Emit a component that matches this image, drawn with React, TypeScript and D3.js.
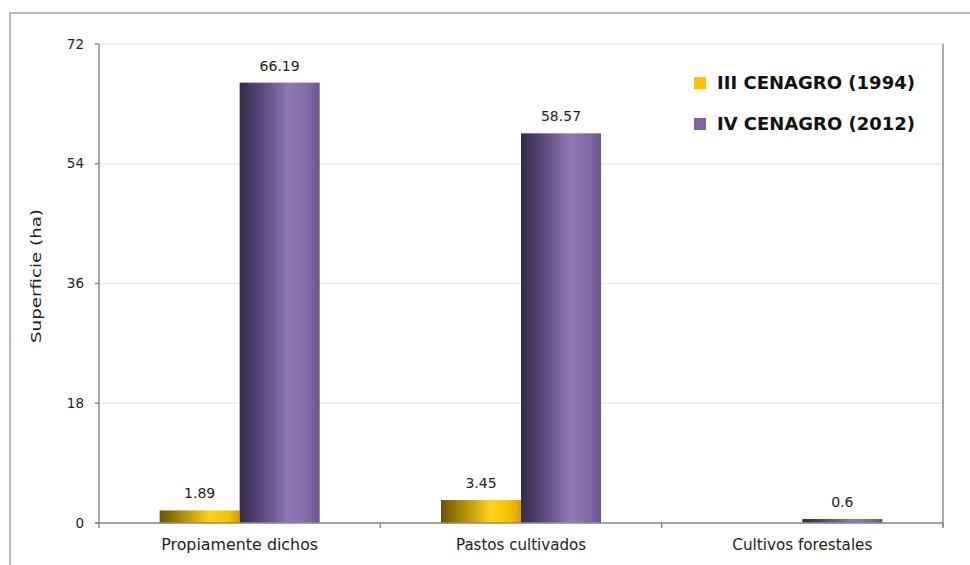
import React from "react";
import * as d3 from "d3";

const categories = ["Propiamente dichos", "Pastos cultivados", "Cultivos forestales"];
const series1994 = [1.89, 3.45, 0];
const series2012 = [66.19, 58.57, 0.6];
const seriesNames = ["III CENAGRO (1994)", "IV CENAGRO (2012)"];
const yTicks = [0, 18, 36, 54, 72];

const W = 970;
const H = 565;
const plot = { left: 99, right: 943, top: 44, bottom: 523 };
const FONT = "'DejaVu Sans', 'Open Sans', sans-serif";
const catLen = [157, 130, 140];

export default function App() {
  const x0 = d3
    .scaleBand<string>()
    .domain(categories)
    .range([plot.left, plot.right])
    .paddingInner(0)
    .paddingOuter(0);
  const groupW = 160;
  const x1 = d3
    .scaleBand<string>()
    .domain(["a", "b"])
    .range([0, groupW])
    .padding(0);
  const y = d3.scaleLinear().domain([0, 72]).range([plot.bottom, plot.top]);

  const fmt = (v: number) => String(v);

  const bars: { key: string; x: number; w: number; v: number; fill: string; show: boolean }[] = [];
  categories.forEach((c, i) => {
    const gx = (x0(c) as number) + x0.bandwidth() / 2 - groupW / 2;
    bars.push({ key: "a" + i, x: gx + (x1("a") as number), w: x1.bandwidth(), v: series1994[i], fill: "url(#gYellow)", show: series1994[i] > 0 });
    bars.push({ key: "b" + i, x: gx + (x1("b") as number), w: x1.bandwidth(), v: series2012[i], fill: "url(#gPurple)", show: series2012[i] > 0 });
  });

  const boundaries = [plot.left, ...categories.map((c) => (x0(c) as number) + x0.bandwidth())];

  return (
    <svg
      width={W}
      height={H}
      style={{ position: "absolute", left: 0, top: 0, background: "#fff" }}
      fontFamily={FONT}
    >
      <defs>
        <linearGradient id="gYellow" x1="0" x2="1" y1="0" y2="0">
          <stop offset="0%" stopColor="#6b5406" />
          <stop offset="30%" stopColor="#b38f07" />
          <stop offset="62%" stopColor="#ffd21a" />
          <stop offset="85%" stopColor="#f5c200" />
          <stop offset="100%" stopColor="#d89c00" />
        </linearGradient>
        <linearGradient id="gPurple" x1="0" x2="1" y1="0" y2="0">
          <stop offset="0%" stopColor="#342a47" />
          <stop offset="30%" stopColor="#5e4b80" />
          <stop offset="62%" stopColor="#9078b6" />
          <stop offset="85%" stopColor="#8169a6" />
          <stop offset="100%" stopColor="#6a548c" />
        </linearGradient>
      </defs>

      <rect x={10} y={13} width={W + 20} height={H + 20} fill="none" stroke="#a0a0a0" strokeWidth={1.5} />

      {yTicks.map((t) => (
        <line key={"g" + t} x1={plot.left} x2={plot.right} y1={y(t)} y2={y(t)} stroke="#ebebeb" strokeWidth={1.5} />
      ))}

      {bars.map((b) =>
        b.show ? (
          <rect key={b.key} x={b.x} y={y(b.v)} width={b.w} height={plot.bottom - y(b.v)} fill={b.fill} />
        ) : null
      )}

      {bars.map((b) =>
        b.show ? (
          <text
            key={"l" + b.key}
            x={b.x + b.w / 2}
            y={y(b.v) - 12}
            textAnchor="middle"
            fontSize={14}
            fill="#222"
          >
            {fmt(b.v)}
          </text>
        ) : null
      )}

      {/* axes */}
      <line x1={plot.left} x2={plot.left} y1={plot.top} y2={plot.bottom} stroke="#8a8a8a" strokeWidth={1.5} />
      <line x1={plot.right} x2={plot.right} y1={plot.top} y2={plot.bottom + 4} stroke="#8a8a8a" strokeWidth={1.5} />
      <line x1={plot.left - 4} x2={plot.right} y1={plot.bottom} y2={plot.bottom} stroke="#8a8a8a" strokeWidth={1.5} />
      {yTicks.map((t) => (
        <g key={"t" + t}>
          <line x1={plot.left - 4} x2={plot.left} y1={y(t)} y2={y(t)} stroke="#8a8a8a" strokeWidth={1.5} />
          <text x={plot.left - 15} y={y(t)} dy="0.35em" textAnchor="end" fontSize={13.5} fill="#222">
            {t}
          </text>
        </g>
      ))}
      {boundaries.map((bx, i) => (
        <line key={"xt" + i} x1={bx} x2={bx} y1={plot.bottom} y2={plot.bottom + 5} stroke="#8a8a8a" strokeWidth={1.5} />
      ))}
      {categories.map((c, i) => (
        <text
          key={"c" + c}
          x={(x0(c) as number) + x0.bandwidth() / 2}
          y={plot.bottom + 27}
          textAnchor="middle"
          fontSize={15.5}
          textLength={catLen[i]}
          lengthAdjust="spacingAndGlyphs"
          fill="#222"
        >
          {c}
        </text>
      ))}

      <text
        transform={`translate(36, ${276}) rotate(-90)`}
        textAnchor="middle"
        dy="0.35em"
        fontSize={14}
        textLength={134}
        lengthAdjust="spacingAndGlyphs"
        fill="#222"
      >
        Superficie (ha)
      </text>

      {/* legend */}
      {seriesNames.map((s, i) => (
        <g key={"lg" + i} transform={`translate(694, ${83 + i * 41})`}>
          <rect x={0} y={-6} width={12} height={12} fill={i === 0 ? "#ffc000" : "#8064a2"} />
          <text x={23} y={0} dy="0.36em" fontSize={17.5} fontWeight="bold" textLength={198} lengthAdjust="spacingAndGlyphs" fill="#111">
            {s}
          </text>
        </g>
      ))}
    </svg>
  );
}
